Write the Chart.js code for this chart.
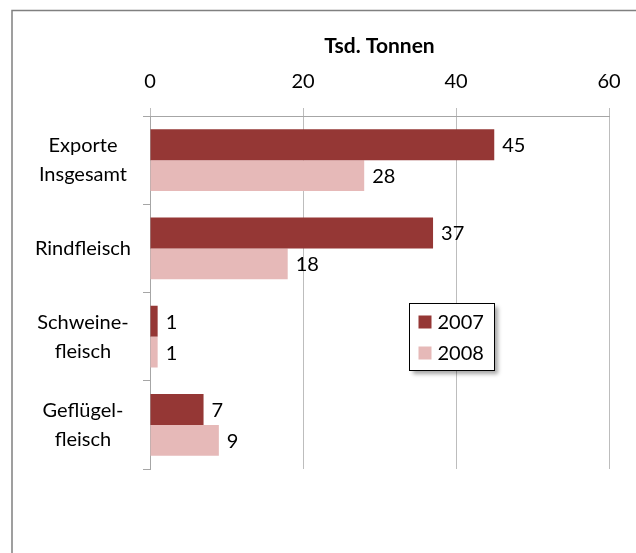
<!DOCTYPE html>
<html>
<head>
<meta charset="utf-8">
<script src="https://cdn.jsdelivr.net/npm/chart.js@4.4.1/dist/chart.umd.min.js"></script>
<style>
  html, body { margin: 0; padding: 0; background: #fff; }
  #wrap { width: 636px; height: 553px; }
</style>
</head>
<body>
<div id="wrap"><canvas id="exportChart" width="636" height="553"></canvas></div>
<script>
    // Exporte nach Produktgruppen, Tsd. Tonnen
    const categories = [['Exporte', 'Insgesamt'], 'Rindfleisch', ['Schweine-', 'fleisch'], ['Geflügel-', 'fleisch']];
    const seriesNames = ['2007', '2008'];
    const values2007 = [45, 37, 1, 7];
    const values2008 = [28, 18, 1, 9];
    const xTicks = [0, 20, 40, 60];

    const FONT = 'Lato, "Noto Sans", sans-serif';

    // Rahmen oben/links
    const framePlugin = {
        id: 'frame',
        beforeDraw(chart) {
            const ctx = chart.ctx;
            ctx.save();
            ctx.strokeStyle = '#808080';
            ctx.lineWidth = 1.5;
            ctx.beginPath();
            ctx.moveTo(12, chart.height);
            ctx.lineTo(12, 10.5);
            ctx.lineTo(chart.width, 10.5);
            ctx.stroke();
            ctx.restore();
        }
    };

    // Werte rechts neben den Balken
    const valueLabels = {
        id: 'valueLabels',
        afterDatasetsDraw(chart) {
            const ctx = chart.ctx;
            ctx.save();
            ctx.font = '20px ' + FONT;
            ctx.fillStyle = '#000';
            ctx.textAlign = 'left';
            ctx.textBaseline = 'middle';
            chart.data.datasets.forEach((ds, i) => {
                chart.getDatasetMeta(i).data.forEach((bar, j) => {
                    ctx.fillText(String(ds.data[j]), bar.x + 8, bar.y + 1);
                });
            });
            ctx.restore();
        }
    };

    // Legende als Kasten mit Schatten im Diagramm
    const boxLegend = {
        id: 'boxLegend',
        afterDraw(chart) {
            const ctx = chart.ctx;
            const x = 409.5, y = 303.5, w = 85, h = 67;
            ctx.save();
            ctx.shadowColor = 'rgba(0,0,0,0.35)';
            ctx.shadowBlur = 4;
            ctx.shadowOffsetX = 3;
            ctx.shadowOffsetY = 3;
            ctx.fillStyle = '#fff';
            ctx.fillRect(x, y, w, h);
            ctx.restore();
            ctx.save();
            ctx.strokeStyle = '#000';
            ctx.lineWidth = 1;
            ctx.strokeRect(x, y, w, h);
            ctx.font = '20px ' + FONT;
            ctx.textBaseline = 'middle';
            chart.data.datasets.forEach((ds, i) => {
                const cy = y + 18 + i * 31;
                ctx.fillStyle = ds.backgroundColor;
                ctx.fillRect(x + 9, cy - 6, 13, 13);
                ctx.fillStyle = '#000';
                ctx.fillText(ds.label, x + 28, cy + 1);
            });
            ctx.restore();
        }
    };

    new Chart(document.getElementById('exportChart'), {
        type: 'bar',
        data: {
            labels: categories,
            datasets: [{
                label: seriesNames[0],
                data: values2007,
                backgroundColor: '#953735',
                barPercentage: 1,
                categoryPercentage: 0.7
            }, {
                label: seriesNames[1],
                data: values2008,
                backgroundColor: '#e6b9b8',
                barPercentage: 1,
                categoryPercentage: 0.7
            }]
        },
        options: {
            indexAxis: 'y',
            responsive: false,
            animation: false,
            layout: { padding: { top: 0, left: 0, right: 27, bottom: 84 } },
            plugins: {
                legend: { display: false },
                tooltip: { enabled: false }
            },
            scales: {
                x: {
                    position: 'top',
                    min: 0,
                    max: 60,
                    afterBuildTicks(scale) {
                        scale.ticks = xTicks.map(v => ({ value: v }));
                    },
                    afterFit(scale) { scale.height = 116; },
                    title: {
                        display: true,
                        text: 'Tsd. Tonnen',
                        color: '#000',
                        font: { family: FONT, size: 21, weight: 'bold' },
                        padding: { top: 34, bottom: 0 }
                    },
                    ticks: {
                        color: '#000',
                        padding: 14,
                        font: { family: FONT, size: 20 }
                    },
                    grid: { color: '#bdbdbd', tickLength: 8, lineWidth: 1 },
                    border: { color: '#a6a6a6' }
                },
                y: {
                    afterFit(scale) { scale.width = 150; },
                    ticks: {
                        color: '#000',
                        padding: 12,
                        crossAlign: 'center',
                        font: { family: FONT, size: 20, lineHeight: 1.45 }
                    },
                    grid: { drawOnChartArea: false, tickLength: 7, color: '#a6a6a6' },
                    border: { color: '#a6a6a6' }
                }
            }
        },
        plugins: [framePlugin, valueLabels, boxLegend]
    });
</script>
</body>
</html>
